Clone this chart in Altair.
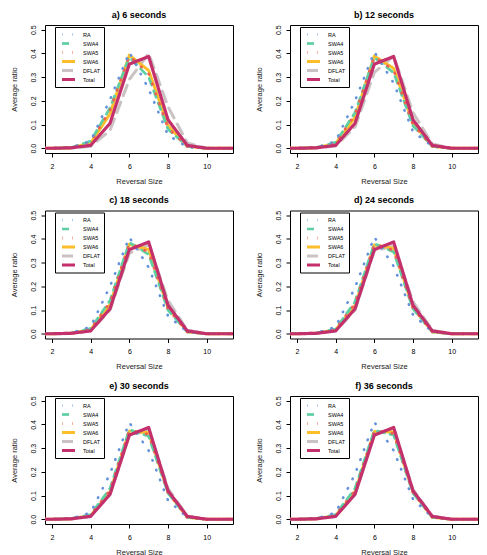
import altair as alt
import pandas as pd

# ---------------- data ----------------
reversal_size = [1, 2, 3, 4, 5, 6, 7, 8, 9, 10, 11, 12]
series_names = ["RA", "SWA4", "SWA5", "SWA6", "DFLAT", "Total"]
panel_titles = ["a) 6 seconds", "b) 12 seconds", "c) 18 seconds",
                "d) 24 seconds", "e) 30 seconds", "f) 36 seconds"]

# one list per panel (a..f), values at reversal sizes 1..12
RA = [
    [0, 0, 0.003, 0.030, 0.205, 0.405, 0.250, 0.055, 0.005, 0, 0, 0],
    [0, 0, 0.003, 0.030, 0.200, 0.407, 0.275, 0.070, 0.008, 0, 0, 0],
    [0, 0, 0.003, 0.030, 0.200, 0.407, 0.280, 0.075, 0.008, 0, 0, 0],
    [0, 0, 0.003, 0.029, 0.195, 0.408, 0.285, 0.080, 0.008, 0, 0, 0],
    [0, 0, 0.003, 0.028, 0.192, 0.408, 0.290, 0.080, 0.008, 0, 0, 0],
    [0, 0, 0.003, 0.028, 0.190, 0.410, 0.290, 0.085, 0.008, 0, 0, 0],
]
SWA4 = [
    [0, 0, 0.003, 0.030, 0.170, 0.385, 0.300, 0.080, 0.008, 0, 0, 0],
    [0, 0, 0.003, 0.025, 0.150, 0.383, 0.318, 0.095, 0.008, 0, 0, 0],
    [0, 0, 0.003, 0.022, 0.140, 0.385, 0.335, 0.100, 0.008, 0, 0, 0],
    [0, 0, 0.003, 0.020, 0.135, 0.380, 0.345, 0.105, 0.008, 0, 0, 0],
    [0, 0, 0.003, 0.020, 0.130, 0.378, 0.350, 0.110, 0.008, 0, 0, 0],
    [0, 0, 0.003, 0.020, 0.130, 0.375, 0.355, 0.110, 0.008, 0, 0, 0],
]
SWA5 = [
    [0, 0, 0.003, 0.026, 0.160, 0.390, 0.315, 0.085, 0.008, 0, 0, 0],
    [0, 0, 0.003, 0.023, 0.142, 0.386, 0.330, 0.100, 0.008, 0, 0, 0],
    [0, 0, 0.003, 0.020, 0.132, 0.380, 0.345, 0.105, 0.008, 0, 0, 0],
    [0, 0, 0.003, 0.019, 0.127, 0.378, 0.352, 0.108, 0.008, 0, 0, 0],
    [0, 0, 0.003, 0.018, 0.122, 0.375, 0.358, 0.112, 0.008, 0, 0, 0],
    [0, 0, 0.003, 0.018, 0.120, 0.372, 0.362, 0.112, 0.008, 0, 0, 0],
]
SWA6 = [
    [0, 0, 0.002, 0.022, 0.145, 0.393, 0.328, 0.095, 0.008, 0, 0, 0],
    [0, 0, 0.002, 0.020, 0.130, 0.389, 0.337, 0.105, 0.008, 0, 0, 0],
    [0, 0, 0.002, 0.018, 0.122, 0.378, 0.355, 0.110, 0.008, 0, 0, 0],
    [0, 0, 0.002, 0.017, 0.118, 0.375, 0.360, 0.110, 0.008, 0, 0, 0],
    [0, 0, 0.002, 0.016, 0.115, 0.372, 0.365, 0.115, 0.008, 0, 0, 0],
    [0, 0, 0.002, 0.016, 0.115, 0.370, 0.368, 0.115, 0.008, 0, 0, 0],
]
DFLAT = [
    [0, 0, 0.001, 0.008, 0.075, 0.290, 0.400, 0.175, 0.022, 0, 0, 0],
    [0, 0, 0.001, 0.010, 0.090, 0.320, 0.389, 0.150, 0.018, 0, 0, 0],
    [0, 0, 0.001, 0.012, 0.100, 0.340, 0.375, 0.140, 0.015, 0, 0, 0],
    [0, 0, 0.001, 0.012, 0.100, 0.350, 0.370, 0.135, 0.014, 0, 0, 0],
    [0, 0, 0.001, 0.012, 0.105, 0.355, 0.375, 0.130, 0.013, 0, 0, 0],
    [0, 0, 0.001, 0.012, 0.105, 0.358, 0.378, 0.125, 0.013, 0, 0, 0],
]
TOTAL = [
    [0, 0, 0.002, 0.012, 0.105, 0.355, 0.387, 0.120, 0.012, 0, 0, 0],
    [0, 0, 0.002, 0.012, 0.105, 0.355, 0.387, 0.120, 0.012, 0, 0, 0],
    [0, 0, 0.002, 0.012, 0.105, 0.355, 0.387, 0.120, 0.012, 0, 0, 0],
    [0, 0, 0.002, 0.012, 0.105, 0.355, 0.387, 0.120, 0.012, 0, 0, 0],
    [0, 0, 0.002, 0.012, 0.105, 0.355, 0.387, 0.120, 0.012, 0, 0, 0],
    [0, 0, 0.002, 0.012, 0.105, 0.355, 0.387, 0.120, 0.012, 0, 0, 0],
]

x_ticks = [2, 4, 6, 8, 10]
y_ticks = [0.0, 0.1, 0.2, 0.3, 0.4, 0.5]

# ---------------- styles ----------------
colors = ["#6592DB", "#5ECFA2", "#EE6450", "#FDBE2C", "#CBC3C3", "#C3306C"]
dashes = [[0.5, 10], [7, 6], [0.5, 10], [1, 0], [11, 7], [1, 0]]
widths = [2.6, 3.2, 2.6, 4.0, 4.5, 3.2]
draw_order = ["DFLAT", "SWA6", "SWA4", "SWA5", "RA", "Total"]
FONT = "Liberation Sans"

series_data = {"RA": RA, "SWA4": SWA4, "SWA5": SWA5, "SWA6": SWA6,
               "DFLAT": DFLAT, "Total": TOTAL}
rows = []
for p, title in enumerate(panel_titles):
    for s in series_names:
        for xv, yv in zip(reversal_size, series_data[s][p]):
            rows.append({"panel": title, "series": s, "size": xv, "ratio": yv})
df = pd.DataFrame(rows)

legend = alt.Legend(orient="none", legendX=10, legendY=2, symbolType="stroke",
                    symbolSize=169, labelFontSize=5.5, labelFont=FONT,
                    labelColor="black", padding=3, clipHeight=9, rowPadding=0,
                    labelOffset=6, symbolOffset=2, strokeColor="black",
                    fillColor="white", cornerRadius=0)

x_axis = alt.Axis(values=x_ticks, tickSize=4, labelPadding=5, labelFontSize=7,
                  titleFontSize=7.5, titlePadding=8, minExtent=16, maxExtent=16,
                  grid=False, domain=False, tickColor="black", labelColor="black",
                  titleColor="#222222", titleFontWeight="normal", labelFont=FONT,
                  titleFont=FONT)
y_axis = alt.Axis(values=y_ticks, format=".1f", tickSize=4, labelPadding=5,
                  labelFontSize=7, labelAngle=-90, labelAlign="center",
                  labelBaseline="bottom", titleFontSize=7.5, titlePadding=11,
                  minExtent=16, maxExtent=16, grid=False, domain=False,
                  tickColor="black", labelColor="black", titleColor="#222222",
                  titleFontWeight="normal", labelFont=FONT, titleFont=FONT)


def make_panel(title):
    base = alt.Chart(df[df["panel"] == title])
    enc = dict(
        x=alt.X("size:Q", title="Reversal Size", axis=x_axis,
                scale=alt.Scale(domain=[1.64, 11.36], nice=False, zero=False,
                                clamp=True)),
        y=alt.Y("ratio:Q", title="Average ratio", axis=y_axis,
                scale=alt.Scale(domain=[-0.02, 0.52], nice=False, zero=False)),
        color=alt.Color("series:N", title=None, legend=legend,
                        scale=alt.Scale(domain=series_names, range=colors)),
        strokeDash=alt.StrokeDash("series:N", title=None, legend=legend,
                                  scale=alt.Scale(domain=series_names, range=dashes)),
        strokeWidth=alt.StrokeWidth("series:N", title=None, legend=legend,
                                    scale=alt.Scale(domain=series_names, range=widths)),
        order=alt.Order("size:Q"),
    )
    layers = [
        base.transform_filter(alt.datum.series == s)
        .mark_line(clip=True, strokeCap="round", strokeJoin="round")
        .encode(**enc)
        for s in draw_order
    ]
    return alt.layer(*layers).properties(
        width=188, height=128,
        title=alt.TitleParams(title, fontSize=9, fontWeight="bold", font=FONT,
                              offset=5, anchor="middle", frame="group",
                              color="black"),
    )


panels = [make_panel(t) for t in panel_titles]

chart = (
    alt.concat(*panels, columns=2, spacing={"row": 10.5, "column": 20})
    .resolve_scale(color="independent", strokeDash="independent",
                   strokeWidth="independent")
    .properties(padding={"left": 9, "top": 10, "right": 5, "bottom": 2},
                background="white")
    .configure_view(stroke="black", strokeWidth=1)
)

chart.save("out.html", embed_options={"renderer": "svg", "actions": False})
